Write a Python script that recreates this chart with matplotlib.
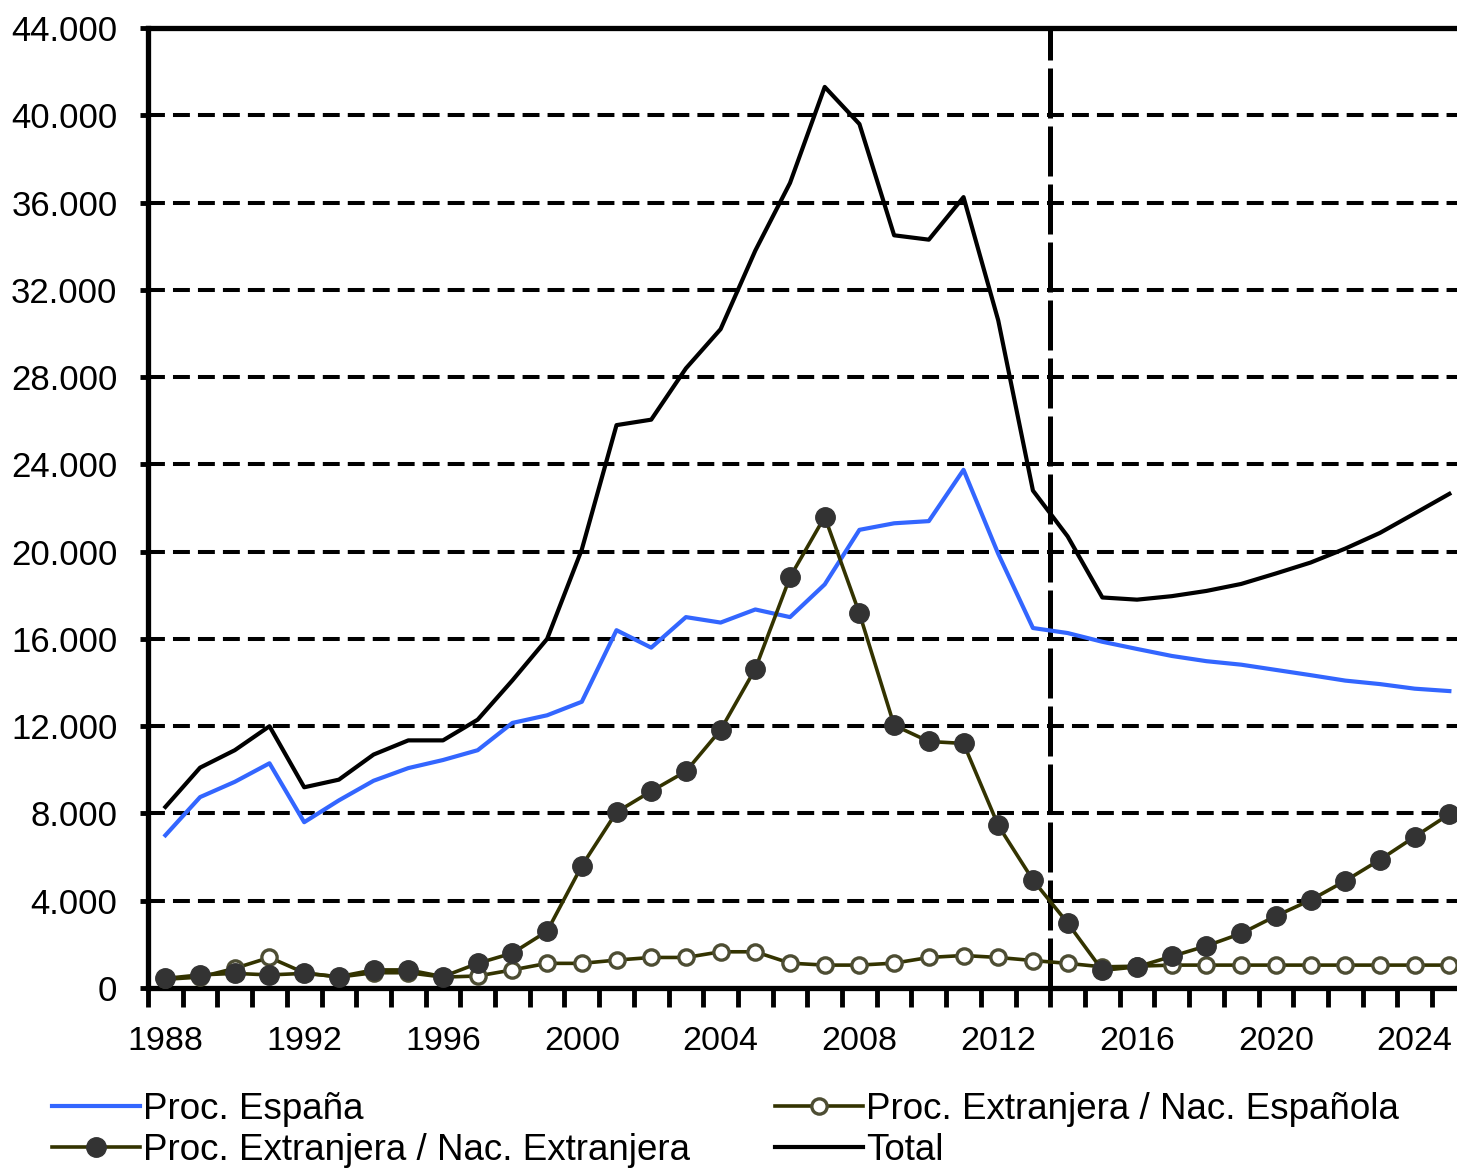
#!/usr/bin/env python3
"""
Población por procedencia y nacionalidad, 1988-2025.
"""

import matplotlib
matplotlib.use('Agg')
import matplotlib.pyplot as plt
import numpy as np

years = list(range(1988, 2026))

total = [8300, 10100, 10900, 12000, 9200, 9550, 10700, 11350, 11350, 12300,
         14100, 16000, 20100, 25800, 26050, 28400, 30200, 33800, 36900, 41300,
         39600, 34500, 34300, 36250, 30600, 22800, 20700, 17900, 17800, 17960,
         18200, 18520, 19000, 19500, 20140, 20860, 21750, 22650]

proc_espana = [7000, 8750, 9450, 10300, 7600, 8600, 9500, 10080, 10450, 10900,
               12150, 12500, 13120, 16400, 15600, 17000, 16750, 17350, 17000, 18500,
               21000, 21300, 21400, 23750, 19900, 16500, 16270, 15870, 15540, 15220,
               14980, 14820, 14580, 14340, 14090, 13930, 13720, 13610]

nac_extranjera = [440, 600, 670, 600, 670, 520, 830, 830, 520, 1130,
                  1600, 2600, 5600, 8060, 9020, 9930, 11830, 14630, 18830, 21600,
                  17170, 12040, 11300, 11210, 7450, 4950, 2980, 810, 970, 1450,
                  1930, 2500, 3300, 4030, 4910, 5880, 6930, 7970]

nac_espanola = [400, 500, 900, 1400, 700, 500, 700, 700, 500, 550,
                830, 1130, 1130, 1280, 1400, 1400, 1660, 1660, 1140, 1050,
                1050, 1140, 1400, 1490, 1400, 1260, 1130, 970, 1000, 1050,
                1050, 1050, 1050, 1050, 1050, 1050, 1050, 1050]

y_ticks = list(range(0, 44001, 4000))
split_year = 2013.5   # línea vertical entre datos y proyección

plt.rcParams['font.family'] = ['Liberation Sans', 'DejaVu Sans']

fig = plt.figure(figsize=(14.57, 11.68), dpi=100)
ax = fig.add_axes([0.1016, 0.1541, 0.8984, 0.8219])

x = np.arange(len(years))
olive = '#333300'

ax.plot(x, proc_espana, color='#3366FF', linewidth=3.0, label='Proc. España', zorder=4)
ax.plot(x, nac_extranjera, color=olive, linewidth=2.6, marker='o', markersize=14,
        markerfacecolor='#333333', markeredgecolor='#333333',
        label='Proc. Extranjera / Nac. Extranjera', zorder=5)
ax.plot(x, nac_espanola, color=olive, linewidth=2.6, marker='o', markersize=11,
        markerfacecolor='white', markeredgecolor='#4d4d33', markeredgewidth=2.4,
        label='Proc. Extranjera / Nac. Española', zorder=4)
ax.plot(x, total, color='black', linewidth=3.0, label='Total', zorder=4)

# gridlines
for v in y_ticks[1:-1]:
    ax.axhline(v, color='black', linewidth=2.9, linestyle=(0, (4.2, 2.0)), zorder=2)
ax.axvline(split_year - years[0], color='black', linewidth=3.6,
           linestyle=(0, (10, 1.6)), zorder=3)

ax.set_yticks(y_ticks)
ax.set_yticklabels([f'{v:,}'.replace(',', '.') for v in y_ticks])

label_idx = [i for i, y in enumerate(years) if (y - 1988) % 4 == 0]
ax.set_xticks(label_idx)
ax.set_xticklabels([str(years[i]) for i in label_idx])
ax.set_xticks(np.arange(-0.5, len(years), 1.0), minor=True)
# limits after the ticks, otherwise set_xticks widens the view
ax.set_ylim(0, 44000)
ax.set_xlim(-0.5, 37.22)

ax.tick_params(axis='x', which='major', length=0, pad=27, labelsize=24.5)
ax.tick_params(axis='x', which='minor', length=14, width=3.5, direction='out')
ax.tick_params(axis='y', length=6, width=3.5, pad=16, labelsize=25)

for side in ['left', 'bottom', 'top']:
    ax.spines[side].set_linewidth(3.8)
ax.spines['right'].set_visible(False)

fig.legend(loc='upper left', bbox_to_anchor=(0.0357, 0.065), ncol=2,
           frameon=False, fontsize=26.5, handlelength=2.4, handletextpad=0.08,
           columnspacing=2.3, labelspacing=0.16, borderpad=0, borderaxespad=0,
           numpoints=1)

fig.savefig('out.png', dpi=100)
plt.close()
